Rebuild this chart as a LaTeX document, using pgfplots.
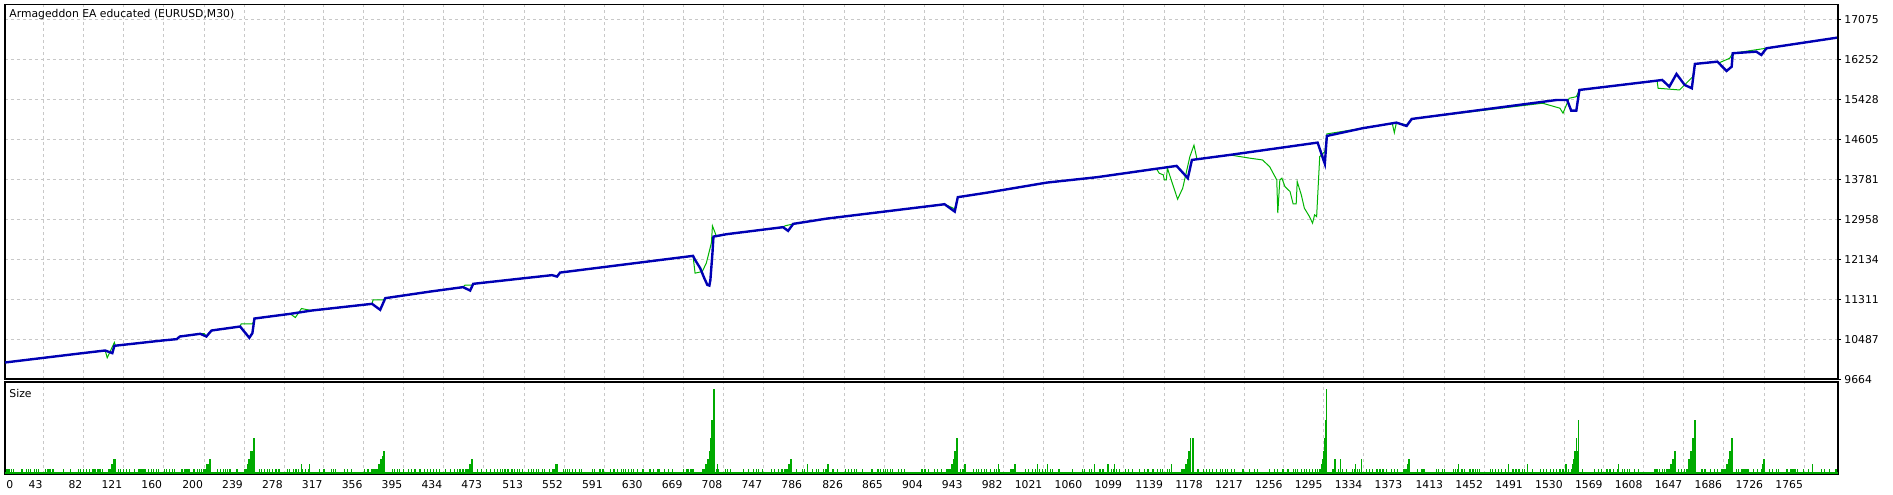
\documentclass[border=0pt]{standalone}
\usepackage{fontspec}
\setmainfont{DejaVu Sans}
\usepackage{pgfplots}
\pgfplotsset{compat=1.18}

\definecolor{bal}{RGB}{0,0,180}
\definecolor{eqt}{RGB}{0,180,0}
\definecolor{lot}{RGB}{0,170,0}
\definecolor{gridc}{RGB}{200,200,200}

\pgfplotsset{
  mt4/.style={
    scale only axis, width=916.5pt, xmin=5, xmax=1798,
    axis line style={line width=0.8pt, black},
    xtick={43,82,121,160,200,239,278,317,356,395,434,473,513,552,591,630,669,708,747,786,826,865,904,943,982,1021,1060,1099,1139,1178,1217,1256,1295,1334,1373,1413,1452,1491,1530,1569,1608,1647,1686,1726,1765},
    xmajorgrids,
    grid style={gridc, line width=0.5pt, dash pattern=on 1.5pt off 1.5pt},
    xtick style={draw=none},
    tick label style={font=\fontsize{5.4}{6}\selectfont},
  }
}

\begin{document}
\begin{tikzpicture}
% balance / equity
\begin{axis}[mt4, name=top, at={(0,0)}, anchor=south west, height=187.2pt,
  ymin=9664, ymax=17375, xticklabels={},
  ytick={9664,10487,11311,12134,12958,13781,14605,15428,16252,17075},
  yticklabels={9664,10487,11311,12134,12958,13781,14605,15428,16252,17075},
  ymajorgrids, ytick pos=right, yticklabel pos=right, ytick align=outside,
  ytick style={line width=0.5pt, black}, major tick length=1.5pt,
  yticklabel style={anchor=west, inner sep=0pt, xshift=1.5pt}]
\addplot[eqt, line width=0.5pt, mark=none] coordinates {
(5,10006) (81,10199) (103,10253) (105,10103) (108,10240) (112,10418) (113,10350)
(159,10459) (173,10487) (176,10541) (196,10597) (200,10600) (202,10545) (207,10665)
(235,10747) (236,10802) (247,10802) (249,10885) (250,10912) (284,11008) (289,10932)
(295,11117) (305,11076) (364,11214) (365,11296) (375,11296) (377,11331) (421,11467)
(453,11558) (455,11599) (462,11599) (463,11626) (540,11805) (545,11790) (548,11858)
(678,12202) (680,11846) (687,11879) (691,12052) (696,12470) (697,12820) (701,12599)
(711,12649) (766,12793) (768,12820) (776,12861) (809,12970) (919,13252) (924,13266)
(934,13170) (937,13411) (966,13505) (1024,13711) (1073,13822) (1130,14000)
(1132,13973) (1134,13904) (1138,13870) (1139,13767) (1141,13767) (1142,14008)
(1152,13369) (1157,13596) (1164,14246) (1168,14481) (1171,14193) (1203,14281)
(1223,14213) (1235,14178) (1242,14040) (1249,13767) (1250,13081) (1252,13767)
(1254,13802) (1257,13629) (1262,13526) (1265,13273) (1268,13273) (1269,13732)
(1273,13458) (1276,13184) (1281,13011) (1284,12875) (1286,13046) (1288,13011)
(1291,14246) (1296,14349) (1298,14714) (1333,14831) (1362,14930) (1364,14740)
(1366,14946) (1376,14900) (1381,15022) (1509,15346) (1526,15243) (1529,15140)
(1535,15448) (1542,15480) (1545,15619) (1621,15811) (1622,15654) (1643,15619)
(1656,15893) (1658,16155) (1680,16202) (1682,16181) (1692,16272) (1695,16375)
(1797,16696)
};
\addplot[bal, line width=1.2pt, mark=none] coordinates {
(5,10006) (81,10199) (103,10253) (110,10199) (112,10350) (159,10459) (173,10487)
(176,10541) (196,10597) (202,10541) (207,10665) (235,10747) (244,10514) (247,10611)
(249,10912) (284,11008) (305,11076) (364,11214) (372,11091) (377,11331) (421,11467)
(453,11558) (460,11488) (463,11626) (540,11805) (545,11776) (548,11858) (678,12202)
(680,12120) (685,11949) (689,11743) (692,11605) (694,11591) (695,11708) (697,12258)
(698,12599) (711,12649) (766,12793) (771,12717) (776,12861) (809,12970) (919,13252)
(924,13266) (934,13114) (937,13411) (966,13505) (1024,13711) (1073,13822)
(1151,14055) (1162,13802) (1166,14178) (1203,14281) (1289,14535) (1296,14096)
(1298,14672) (1333,14831) (1366,14946) (1376,14878) (1381,15022) (1523,15413)
(1533,15413) (1537,15193) (1542,15193) (1545,15619) (1621,15811) (1626,15825)
(1633,15687) (1640,15949) (1648,15722) (1655,15654) (1658,16155) (1680,16202)
(1689,16010) (1694,16099) (1695,16375) (1718,16408) (1723,16340) (1728,16478)
(1797,16696)
};
\node[anchor=west, inner sep=0pt, xshift=2pt, yshift=-5pt, font=\fontsize{5.4}{6}\selectfont]
  at (rel axis cs:0,1) {Armageddon EA educated (EURUSD,M30)};
\coordinate (tl) at (rel axis cs:0,1);
\end{axis}
% lot sizes
\begin{axis}[mt4, at={(0,-1.5pt)}, anchor=north west, height=46pt,
  ymin=0, ymax=0.92, ytick=\empty,
  xticklabels={43,82,121,160,200,239,278,317,356,395,434,473,513,552,591,630,669,708,747,786,826,865,904,943,982,1021,1060,1099,1139,1178,1217,1256,1295,1334,1373,1413,1452,1491,1530,1569,1608,1647,1686,1726,1765},
  xticklabel style={anchor=north east, inner sep=0pt, yshift=-3pt, xshift=-0.5pt},
  extra x ticks={5}, extra x tick labels={0},
  extra x tick style={grid=none, xticklabel style={anchor=north west, xshift=1pt}}]
\addplot[lot, line width=1pt, mark=none] coordinates {(5,0.015) (1798,0.015)};
\addplot[ycomb, lot, line width=0.6pt, mark=none] coordinates {
(7,.05)(9,.05)(11,.05)(13,.05)(21,.05)(22,.05)(26,.05)(28,.05)(30,.05)(34,.05)(36,.05)(38,.05)
(45,.05)(47,.05)(49,.05)(52,.05)(62,.05)(69,.05)(77,.05)(79,.05)(82,.05)(85,.05)(88,.05)(91,.05)
(93,.05)(96,.05)(98,.05)(100,.05)(116,.05)(118,.05)(121,.05)(124,.05)(127,.05)(132,.05)(136,.05)
(138,.05)(140,.05)(142,.05)(145,.05)(148,.05)(150,.05)(153,.05)(155,.05)(161,.05)(163,.05)
(166,.05)(169,.05)(171,.05)(178,.05)(179,.05)(181,.05)(183,.05)(185,.05)(189,.05)(190,.05)
(193,.05)(195,.05)(197,.05)(213,.05)(216,.05)(219,.05)(221,.05)(223,.05)(225,.05)(232,.05)
(254,.05)(256,.05)(259,.05)(262,.05)(264,.05)(267,.05)(270,.05)(273,.05)(281,.05)(283,.05)
(287,.05)(289,.05)(290,.05)(292,.05)(296,.05)(299,.05)(302,.05)(313,.05)(317,.05)(324,.05)
(326,.05)(328,.05)(337,.05)(340,.05)(344,.05)(357,.05)(360,.05)(364,.05)(366,.05)(384,.05)
(386,.05)(389,.05)(391,.05)(395,.05)(400,.05)(403,.05)(406,.05)(411,.05)(415,.05)(418,.05)
(421,.05)(424,.05)(427,.05)(430,.05)(436,.05)(441,.05)(445,.05)(448,.05)(450,.05)(453,.05)
(467,.05)(471,.05)(476,.05)(480,.05)(484,.05)(487,.05)(490,.05)(492,.05)(494,.05)(497,.05)
(501,.05)(503,.05)(506,.05)(508,.05)(511,.05)(517,.05)(520,.05)(522,.05)(525,.05)(527,.05)
(531,.05)(533,.05)(538,.05)(551,.05)(553,.05)(555,.05)(557,.05)(560,.05)(563,.05)(567,.05)
(569,.05)(580,.05)(582,.05)(587,.05)(590,.05)(597,.05)(600,.05)(601,.05)(604,.05)(608,.05)
(610,.05)(612,.05)(615,.05)(618,.05)(620,.05)(624,.05)(629,.05)(636,.05)(639,.05)(643,.05)
(644,.05)(645,.05)(650,.05)(654,.05)(658,.05)(669,.05)(672,.05)(673,.05)(676,.05)(678,.05)
(701,.05)(703,.05)(710,.05)(712,.05)(715,.05)(727,.05)(732,.05)(737,.05)(740,.05)(742,.05)
(746,.05)(755,.05)(758,.05)(762,.05)(765,.05)(779,.05)(785,.05)(787,.05)(795,.05)(799,.05)
(801,.05)(806,.05)(808,.05)(815,.05)(819,.05)(827,.05)(830,.05)(833,.05)(836,.05)(838,.05)
(844,.05)(853,.05)(859,.05)(861,.05)(864,.05)(866,.05)(868,.05)(871,.05)(873,.05)(879,.05)
(882,.05)(885,.05)(902,.05)(905,.05)(908,.05)(914,.05)(917,.05)(921,.05)(926,.05)(940,.05)
(942,.05)(952,.05)(955,.05)(957,.05)(960,.05)(963,.05)(965,.05)(969,.05)(973,.05)(975,.05)
(978,.05)(989,.05)(991,.05)(1003,.05)(1006,.05)(1010,.05)(1013,.05)(1017,.05)(1020,.05)
(1023,.05)(1028,.05)(1030,.05)(1036,.05)(1049,.05)(1059,.05)(1061,.05)(1066,.05)(1068,.05)
(1076,.05)(1079,.05)(1087,.05)(1089,.05)(1092,.05)(1095,.05)(1101,.05)(1104,.05)(1108,.05)
(1115,.05)(1120,.05)(1123,.05)(1128,.05)(1132,.05)(1135,.05)(1137,.05)(1142,.05)(1144,.05)
(1172,.05)(1177,.05)(1180,.05)(1183,.05)(1186,.05)(1190,.05)(1194,.05)(1196,.05)(1199,.05)
(1201,.05)(1205,.05)(1208,.05)(1216,.05)(1222,.05)(1227,.05)(1230,.05)(1242,.05)(1247,.05)
(1250,.05)(1255,.05)(1260,.05)(1265,.05)(1267,.05)(1269,.05)(1273,.05)(1276,.05)(1278,.05)
(1281,.05)(1284,.05)(1287,.05)(1289,.05)(1313,.05)(1317,.05)(1328,.05)(1337,.05)(1340,.05)
(1343,.05)(1347,.05)(1350,.05)(1353,.05)(1356,.05)(1361,.05)(1364,.05)(1367,.05)(1387,.05)
(1391,.05)(1393,.05)(1405,.05)(1407,.05)(1411,.05)(1413,.05)(1422,.05)(1424,.05)(1426,.05)
(1430,.05)(1431,.05)(1433,.05)(1438,.05)(1441,.05)(1443,.05)(1445,.05)(1447,.05)(1458,.05)
(1460,.05)(1463,.05)(1466,.05)(1469,.05)(1473,.05)(1480,.05)(1483,.05)(1486,.05)(1489,.05)
(1491,.05)(1499,.05)(1507,.05)(1510,.05)(1513,.05)(1517,.05)(1520,.05)(1523,.05)(1526,.05)
(1529,.05)(1548,.05)(1560,.05)(1564,.05)(1567,.05)(1572,.05)(1575,.05)(1578,.05)(1582,.05)
(1587,.05)(1589,.05)(1592,.05)(1594,.05)(1599,.05)(1603,.05)(1619,.05)(1621,.05)(1623,.05)
(1626,.05)(1628,.05)(1642,.05)(1645,.05)(1648,.05)(1665,.05)(1667,.05)(1668,.05)(1673,.05)
(1677,.05)(1680,.05)(1699,.05)(1701,.05)(1704,.05)(1706,.05)(1708,.05)(1710,.05)(1715,.05)
(1719,.05)(1731,.05)(1734,.05)(1738,.05)(1740,.05)(1748,.05)(1752,.05)(1754,.05)(1756,.05)
(1758,.05)(1764,.05)(1769,.05)(1782,.05)(1785,.05)(1790,.05)(1796,.05)
(106,.05)(107,.05)(108,.05)(109,.10)(110,.10)(111,.15)(112,.15)(113,.15)
(199,.05)(200,.05)(201,.05)(202,.10)(203,.10)(204,.10)(205,.15)(206,.15)
(239,.05)(240,.05)(241,.05)(242,.10)(243,.15)(244,.15)(245,.23)(246,.23)(247,.23)(248,.36)(249,.36)
(295,.10)(303,.10)
(367,.05)(368,.05)(369,.05)(370,.10)(371,.10)(372,.15)(373,.15)(374,.18)(375,.23)(376,.23)
(456,.05)(457,.05)(458,.05)(459,.10)(460,.10)(461,.15)(462,.15)
(541,.05)(542,.05)(543,.05)(544,.10)(545,.10)
(687,.05)(688,.05)(689,.05)(690,.10)(691,.10)(692,.15)(693,.15)(694,.23)(695,.36)(696,.54)(697,.54)(698,.85)(699,.85)(702,.10)
(768,.05)(769,.05)(770,.05)(771,.10)(772,.10)(773,.15)(774,.15)(790,.10)(810,.10)
(927,.05)(928,.05)(929,.05)(930,.05)(931,.10)(932,.10)(933,.15)(934,.23)(935,.23)(936,.36)(937,.36)(944,.10)
(977,.10)(993,.10)(1015,.10)(1025,.10)(1071,.10)(1084,.10)(1090,.10)(1146,.10)
(1156,.05)(1157,.05)(1158,.05)(1159,.05)(1160,.10)(1161,.10)(1162,.15)(1163,.23)(1164,.23)(1165,.36)(1167,.36)
(1291,.05)(1292,.05)(1293,.10)(1294,.15)(1295,.23)(1296,.36)(1297,.54)(1298,.85)(1304,.05)(1306,.15)(1309,.05)(1311,.15)
(1323,.05)(1325,.05)(1326,.10)(1330,.05)(1332,.15)
(1373,.05)(1374,.05)(1375,.05)(1376,.05)(1377,.10)(1378,.15)(1379,.15)
(1427,.10)(1476,.10)(1494,.10)(1532,.10)
(1534,.05)(1537,.05)(1538,.10)(1539,.15)(1540,.23)(1541,.23)(1542,.36)(1543,.23)(1544,.54)
(1583,.10)
(1630,.05)(1631,.05)(1632,.05)(1633,.05)(1634,.10)(1635,.10)(1636,.15)(1637,.15)(1638,.23)(1639,.23)
(1650,.05)(1651,.05)(1652,.15)(1653,.15)(1654,.23)(1655,.23)(1656,.36)(1657,.36)(1658,.54)
(1684,.05)(1685,.05)(1686,.05)(1687,.05)(1688,.05)(1689,.10)(1690,.10)(1691,.15)(1692,.23)(1693,.23)(1694,.36)(1695,.36)
(1723,.05)(1724,.10)(1725,.15)(1726,.15)
(1773,.10)
};
\node[anchor=west, inner sep=0pt, xshift=2pt, yshift=-5.5pt, font=\fontsize{5.4}{6}\selectfont]
  at (rel axis cs:0,1) {Size};
\coordinate (br) at (rel axis cs:1,0);
\end{axis}
\pgfresetboundingbox
\path ([shift={(-2.5pt,2.35pt)}]tl) rectangle ([shift={(27.5pt,-10pt)}]br);
\end{tikzpicture}
\end{document}
